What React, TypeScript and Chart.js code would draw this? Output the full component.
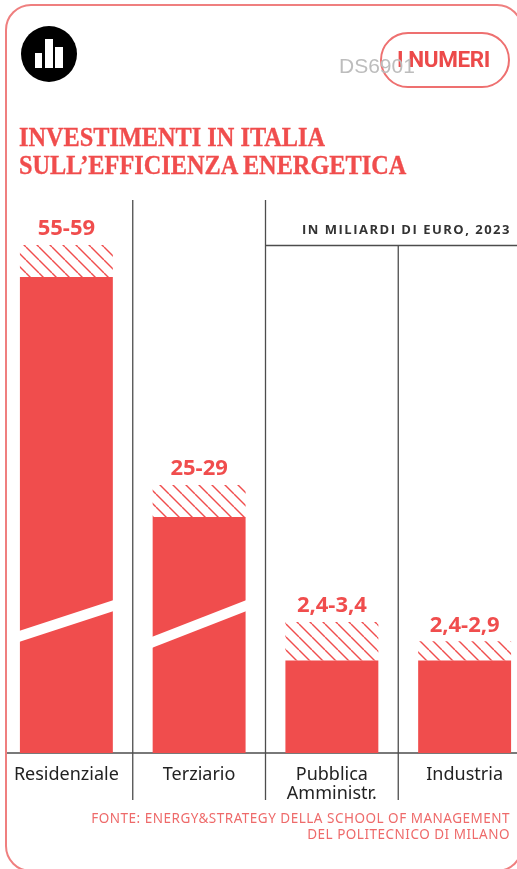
import React, { useEffect, useRef } from "react";
import { Chart, LinearScale, registerables } from "chart.js";

// Investment ranges by sector, billions of euro, 2023
const categories = ["Residenziale", "Terziario", ["Pubblica", "Amministr."], "Industria"];
const lowValues = [55, 25, 2.4, 2.4];
const highValues = [59, 29, 3.4, 2.9];
const rangeLabels = ["55-59", "25-29", "2,4-3,4", "2,4-2,9"];

// The value axis is compressed between the small and the large sectors
const axisBreakValues = [0, 3.4, 25, 59];
const axisBreakFractions = [0, 0.2579, 0.4646, 1];

// Bars interrupted by a slanted white cut: sector index and the value at the cut's right end
const cutIndexes = [0, 1];
const cutValues = [7.9, 7.9];
const cutRises = [31, 37];

const RED = "#f04d4d";
const LINE = "#4d4d4d";

class BrokenScale extends LinearScale {
  static id = "broken";
  static defaults = LinearScale.defaults;
  getPixelForValue(value: number) {
    let fraction = 1;
    for (let i = 1; i < axisBreakValues.length; i++) {
      if (value <= axisBreakValues[i]) {
        const t = (value - axisBreakValues[i - 1]) / (axisBreakValues[i] - axisBreakValues[i - 1]);
        fraction = axisBreakFractions[i - 1] + t * (axisBreakFractions[i] - axisBreakFractions[i - 1]);
        break;
      }
    }
    return this.bottom - fraction * (this.bottom - this.top);
  }
}

Chart.register(...registerables, BrokenScale);

function hatchPattern(ctx: CanvasRenderingContext2D) {
  const tile = document.createElement("canvas");
  tile.width = 13;
  tile.height = 13;
  const t = tile.getContext("2d")!;
  t.strokeStyle = RED;
  t.lineWidth = 1.4;
  for (const shift of [-13, 0, 13]) {
    t.beginPath();
    t.moveTo(shift, 0);
    t.lineTo(shift + 13, 13);
    t.stroke();
  }
  return ctx.createPattern(tile, "repeat")!;
}

const sectorFrame = {
  id: "sectorFrame",
  beforeDatasetsDraw(chart: any) {
    const { ctx, chartArea, scales } = chart;
    const x = scales.x;
    const band = x.getPixelForValue(1) - x.getPixelForValue(0);
    const line = (x0: number, y0: number, x1: number, y1: number) => {
      ctx.beginPath();
      ctx.moveTo(x0, y0);
      ctx.lineTo(x1, y1);
      ctx.stroke();
    };
    ctx.save();
    ctx.strokeStyle = LINE;
    ctx.lineWidth = 1.3;
    const tops = [200, 200, 245.5];
    tops.forEach((top, i) => {
      const px = x.getPixelForValue(i) + band / 2;
      line(px, top, px, 800);
    });
    line(x.getPixelForValue(1) + band / 2, 245.5, 517, 245.5);
    line(6, chartArea.bottom, 517, chartArea.bottom);
    ctx.restore();
  },
  afterDatasetsDraw(chart: any) {
    const { ctx, scales } = chart;
    const bars = chart.getDatasetMeta(0).data;
    ctx.save();
    // Slanted cuts through the tall bars
    ctx.fillStyle = "#ffffff";
    cutIndexes.forEach((index, i) => {
      const bar = bars[index];
      const left = bar.x - bar.width / 2 - 1;
      const right = bar.x + bar.width / 2 + 1;
      const yRight = scales.y.getPixelForValue(cutValues[i]);
      const yLeft = yRight + cutRises[i];
      ctx.beginPath();
      ctx.moveTo(left, yLeft);
      ctx.lineTo(right, yRight);
      ctx.lineTo(right, yRight + 11);
      ctx.lineTo(left, yLeft + 11);
      ctx.closePath();
      ctx.fill();
    });
    // Range labels above the hatched part
    ctx.fillStyle = RED;
    ctx.font = "700 22px 'Open Sans'";
    ctx.textAlign = "center";
    ctx.textBaseline = "middle";
    rangeLabels.forEach((label, i) => {
      ctx.fillText(label, bars[i].x, scales.y.getPixelForValue(highValues[i]) - 16);
    });
    ctx.restore();
  },
};

export default function App() {
  const canvasRef = useRef<HTMLCanvasElement | null>(null);

  useEffect(() => {
    document.body.style.margin = "0";
    const ctx = canvasRef.current!.getContext("2d")!;
    const chart = new Chart(ctx, {
      type: "bar",
      data: {
        labels: categories as any,
        datasets: [
          {
            label: "Minimo",
            data: lowValues,
            backgroundColor: RED,
            grouped: false,
            barPercentage: 0.7,
            categoryPercentage: 1,
          },
          {
            label: "Intervallo",
            data: lowValues.map((low, i) => [low, highValues[i]]) as any,
            backgroundColor: hatchPattern(ctx),
            grouped: false,
            barPercentage: 0.7,
            categoryPercentage: 1,
          },
        ],
      },
      options: {
        responsive: false,
        animation: false,
        layout: { padding: { top: 245, left: 0, right: 0, bottom: 0 } },
        plugins: { legend: { display: false }, tooltip: { enabled: false } },
        scales: {
          x: {
            grid: { display: false },
            border: { display: false },
            afterFit(scale: any) {
              scale.height = 116;
            },
            ticks: {
              color: "#222222",
              padding: 4,
              autoSkip: false,
              maxRotation: 0,
              font: { family: "'Noto Sans'", size: 18, lineHeight: 1.08 },
            },
          },
          y: { type: "broken" as any, display: false, min: 0, max: 59 },
        },
      },
      plugins: [sectorFrame],
    });
    return () => chart.destroy();
  }, []);

  const abs = (style: React.CSSProperties): React.CSSProperties => ({
    position: "absolute",
    whiteSpace: "nowrap",
    ...style,
  });

  return (
    <div style={{ position: "relative", width: 517, height: 869, overflow: "hidden", background: "#fff" }}>
      <canvas ref={canvasRef} width={531} height={869} style={{ position: "absolute", left: 0, top: 0 }} />
      <div
        style={abs({
          left: 5,
          top: 3.5,
          width: 518,
          height: 868,
          boxSizing: "border-box",
          border: "2px solid #ef7f7f",
          borderRadius: 26,
        })}
      />
      <svg width="56" height="56" viewBox="0 0 56 56" style={abs({ left: 21, top: 26 })}>
        <circle cx="28" cy="28" r="28" fill="#000" />
        <rect x="14" y="27" width="7" height="15" fill="#fff" />
        <rect x="24" y="13" width="8" height="29" fill="#fff" />
        <rect x="34" y="21" width="8" height="21" fill="#fff" />
      </svg>
      <div
        style={abs({
          left: 380,
          top: 32,
          width: 130,
          height: 56,
          boxSizing: "border-box",
          border: "2px solid #ee7070",
          borderRadius: 28,
        })}
      />
      <div
        style={abs({
          left: 397,
          top: 45,
          fontFamily: "Roboto",
          fontWeight: 700,
          fontSize: 22.5,
          lineHeight: "28px",
          letterSpacing: -0.4,
          color: "#ec4a4a",
        })}
      >
        I NUMERI
      </div>
      <div
        style={abs({
          left: 339,
          top: 53,
          fontFamily: "'Liberation Sans'",
          fontSize: 21,
          lineHeight: "26px",
          color: "#bdbdbd",
        })}
      >
        DS6901
      </div>
      <div
        style={abs({
          left: 19,
          top: 124.5,
          fontFamily: "'Liberation Serif'",
          fontWeight: 700,
          fontSize: 24.3,
          lineHeight: "25.5px",
          transform: "scaleY(1.1)",
          transformOrigin: "left center",
          WebkitTextStroke: "0.3px #f04d4d",
          color: RED,
        })}
      >
        INVESTIMENTI IN ITALIA
        <br />
        SULL’EFFICIENZA ENERGETICA
      </div>
      <div
        style={abs({
          right: 6,
          top: 220,
          fontFamily: "'Open Sans'",
          fontWeight: 700,
          fontSize: 13,
          lineHeight: "18px",
          letterSpacing: 1.5,
          color: "#333",
        })}
      >
        IN MILIARDI DI EURO, 2023
      </div>
      <div
        style={abs({
          right: 7,
          top: 810,
          textAlign: "right",
          fontFamily: "'Noto Sans'",
          fontSize: 13.5,
          lineHeight: "16px",
          letterSpacing: 0.5,
          color: "#ee6a6a",
        })}
      >
        FONTE: ENERGY&amp;STRATEGY DELLA SCHOOL OF MANAGEMENT
        <br />
        DEL POLITECNICO DI MILANO
      </div>
    </div>
  );
}
